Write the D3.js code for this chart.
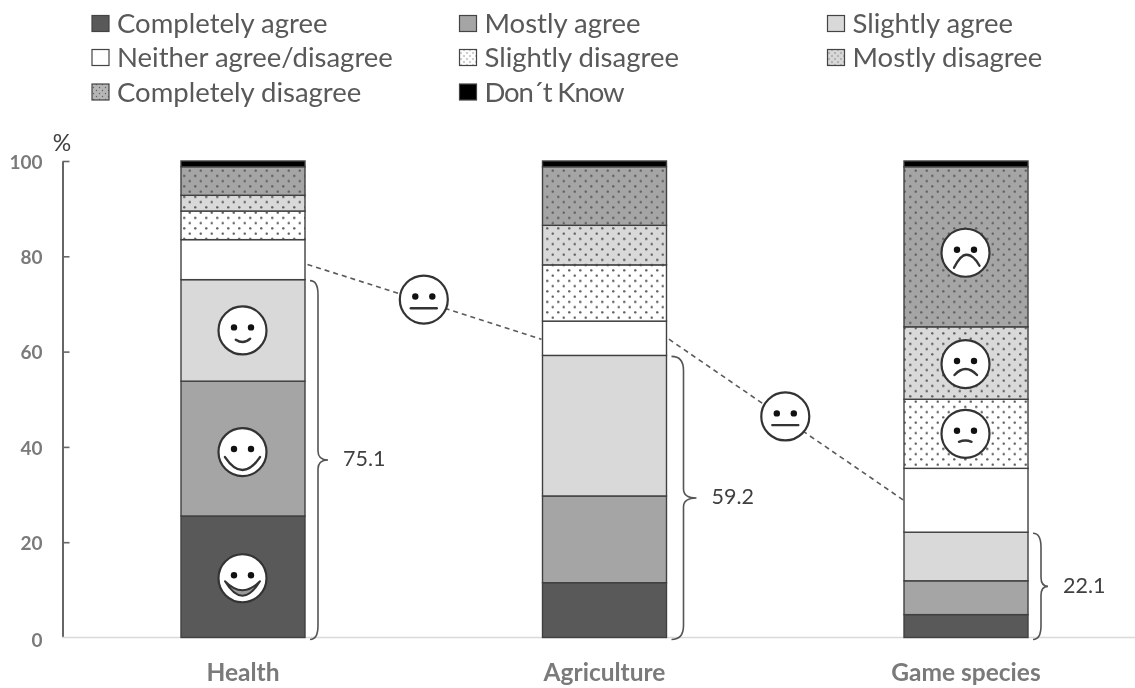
<!DOCTYPE html>
<html>
<head>
<meta charset="utf-8">
<script src="https://cdn.jsdelivr.net/npm/d3@7"></script>
<style>
html, body { margin: 0; padding: 0; background: #fff; overflow: hidden; }
svg { display: block; filter: blur(0.4px); }
text { font-family: Lato, "Open Sans", sans-serif; }
</style>
</head>
<body>
<svg id="chart" width="1135" height="688"></svg>
<script>
const categories = ["Health", "Agriculture", "Game species"];
const responses = ["Completely agree", "Mostly agree", "Slightly agree", "Neither agree/disagree",
	"Slightly disagree", "Mostly disagree", "Completely disagree", "Don´t Know"];
const completelyAgree = [25.5, 11.5, 4.8];
const mostlyAgree = [28.3, 18.2, 7.1];
const slightlyAgree = [21.3, 29.5, 10.2];
const neither = [8.4, 7.2, 13.4];
const slightlyDisagree = [6.0, 11.8, 14.5];
const mostlyDisagree = [3.3, 8.3, 15.2];
const completelyDisagree = [6.0, 12.3, 33.6];
const dontKnow = [1.2, 1.2, 1.2];
const agreeTotals = [75.1, 59.2, 22.1];
const connectorValues = [78.3, 62.6, 28.9];
const yTicks = [0, 20, 40, 60, 80, 100];

const seriesValues = [completelyAgree, mostlyAgree, slightlyAgree, neither,
	slightlyDisagree, mostlyDisagree, completelyDisagree, dontKnow];

// face on a segment: category, response index, mouth, nudge in px
const barFaces = [
	[0, 0, "bigsmile", 1.5], [0, 1, "smile", 3.5], [0, 2, "slightsmile", 0],
	[2, 4, "slightsad", 0], [2, 5, "sad", 1], [2, 6, "verysad", 6]
];

const fills = ["#595959", "#a5a5a5", "#d9d9d9", "#ffffff", "url(#pSlight)", "url(#pMostly)", "url(#pComplete)", "#000000"];
const legendFills = ["#595959", "#a5a5a5", "#d9d9d9", "#ffffff", "url(#lSlight)", "url(#lMostly)", "url(#lComplete)", "#000000"];

const svg = d3.select("#chart");
const defs = svg.append("defs");

function dotPattern(id, bg, w, h, r) {
	let p = defs.append("pattern").attr("id", id).attr("patternUnits", "userSpaceOnUse")
		.attr("width", w).attr("height", h);
	p.append("rect").attr("width", w).attr("height", h).attr("fill", bg);
	[[w / 4, h / 4], [w * 3 / 4, h * 3 / 4]].forEach(d => {
		p.append("circle").attr("cx", d[0]).attr("cy", d[1]).attr("r", r).attr("fill", "#606060");
	});
}
dotPattern("pSlight", "#ffffff", 11, 10.5, 1.25);
dotPattern("pMostly", "#d9d9d9", 11, 10.5, 1.25);
dotPattern("pComplete", "#a5a5a5", 11, 10.5, 1.25);
dotPattern("lSlight", "#ffffff", 6, 6, 0.7);
dotPattern("lMostly", "#d9d9d9", 6, 6, 0.7);
dotPattern("lComplete", "#b5b5b5", 6, 6, 0.7);

const x = d3.scaleBand().domain(categories).range([62.25, 1146.75]).paddingInner(0.657).paddingOuter(0.3285);
const y = d3.scaleLinear().domain([0, 100]).range([637.5, 161]);

// stack
const stacked = d3.stack().keys(d3.range(responses.length)).value((d, k) => seriesValues[k][d])(d3.range(categories.length));

// axes
const gy = svg.append("g").attr("transform", "translate(62.5,0)")
	.call(d3.axisRight(y).tickValues(yTicks).tickSize(7).tickSizeOuter(0).tickFormat(""));
gy.selectAll("line").attr("stroke", "#666").attr("stroke-width", 1.6);
gy.select(".domain").attr("stroke", "#666").attr("stroke-width", 2);
gy.selectAll(".tick").filter(d => d === 0).select("line").remove();

svg.selectAll(".ylab").data(yTicks).join("text").attr("class", "ylab")
	.attr("x", 42.5).attr("y", d => y(d) + (d === 0 ? 2.5 : 1)).attr("dy", "0.36em")
	.attr("text-anchor", "end").attr("font-size", 19).attr("font-weight", 700).attr("fill", "#7a7a7a")
	.text(d => d);

svg.append("line").attr("x1", 62).attr("x2", 1135).attr("y1", y(0)).attr("y2", y(0))
	.attr("stroke", "#d9d9d9").attr("stroke-width", 1.5);

svg.append("text").attr("x", 62).attr("y", 151).attr("text-anchor", "middle")
	.attr("font-size", 23).attr("fill", "#404040").text("%");

// bars
const layers = svg.selectAll(".layer").data(stacked).join("g").attr("class", "layer")
	.attr("fill", (d, i) => fills[i]);
layers.selectAll("rect").data(d => d).join("rect")
	.attr("x", (d, i) => x(categories[i]))
	.attr("width", x.bandwidth())
	.attr("y", d => y(d[1]))
	.attr("height", d => y(d[0]) - y(d[1]))
	.attr("stroke", "#404040").attr("stroke-width", 1.4);

svg.selectAll(".cat").data(categories).join("text").attr("class", "cat")
	.attr("x", d => x(d) + x.bandwidth() / 2).attr("y", 681)
	.attr("text-anchor", "middle").attr("font-size", 24.5).attr("font-weight", 700).attr("fill", "#7a7a7a")
	.text(d => d);

// dashed connectors between the "neither" segments, neutral face half way
d3.range(categories.length - 1).forEach(i => {
	let x0 = x(categories[i]) + x.bandwidth() + 2.5, x1 = x(categories[i + 1]) - 1;
	let y0 = y(connectorValues[i]), y1 = y(connectorValues[i + 1]);
	svg.append("line").attr("x1", x0).attr("y1", y0).attr("x2", x1).attr("y2", y1)
		.attr("stroke", "#5a5a5a").attr("stroke-width", 1.6).attr("stroke-dasharray", "5 4");
	drawFace(x0 + (x1 - x0) * 0.497, y0 + (y1 - y0) * 0.49 - 1.5, "neutral");
});

barFaces.forEach(f => {
	let d = stacked[f[1]][f[0]];
	drawFace(x(categories[f[0]]) + x.bandwidth() / 2 - 0.5, y((d[0] + d[1]) / 2) + f[3], f[2]);
});

function drawFace(cx, cy, mouth) {
	let g = svg.append("g").attr("transform", `translate(${cx},${cy})`);
	g.append("circle").attr("r", 24).attr("fill", "#fff").attr("stroke", "#333").attr("stroke-width", 2.2);
	[-8.5, 8.5].forEach(ex => {
		g.append("circle").attr("cx", ex).attr("cy", -3).attr("r", 3.2).attr("fill", "#111");
	});
	let m = g.append("path").attr("fill", "none").attr("stroke", "#333").attr("stroke-width", 2.4).attr("stroke-linecap", "round");
	if (mouth === "bigsmile") {
		m.attr("d", "M-17.5,3 Q0,32 17.5,3 Q0,21 -17.5,3 Z").attr("fill", "#999").attr("stroke-width", 2).attr("stroke-linejoin", "round");
	}
	if (mouth === "smile") m.attr("d", "M-17.5,5 Q0,31 17.5,5");
	if (mouth === "slightsmile") m.attr("d", "M-6.7,9.3 Q1,14.5 7.7,8.3");
	if (mouth === "neutral") m.attr("d", "M-13,8.7 L13,8.7");
	if (mouth === "slightsad") m.attr("d", "M-6.5,8 Q0,5.5 6,8");
	if (mouth === "sad") m.attr("d", "M-11,11 Q0,-1 11.5,11");
	if (mouth === "verysad") m.attr("d", "M-11.5,15 Q-5,2 1,2 Q8,2 14,13");
}

// curly braces beside the agree total
const braceReach = [13, 17, 13];
const braceTip = [10, 13, 7];
agreeTotals.forEach((t, i) => {
	let right = x(categories[i]) + x.bandwidth();
	let x0 = right + 5;
	let top = y(t) + 1, bot = y(0) + 2, mid = (top + bot) / 2;
	let rx = right + braceReach[i], tip = rx + braceTip[i];
	svg.append("path")
		.attr("d", `M${x0},${top} Q${rx},${top} ${rx},${top + 14} L${rx},${mid - 9} Q${rx},${mid} ${tip},${mid} Q${rx},${mid} ${rx},${mid + 9} L${rx},${bot - 14} Q${rx},${bot} ${x0},${bot}`)
		.attr("fill", "none").attr("stroke", "#555").attr("stroke-width", 1.6);
	svg.append("text").attr("x", tip + 15).attr("y", mid - 1.5).attr("dy", "0.36em")
		.attr("font-size", 21.5).attr("fill", "#404040").text(t);
});

// legend
const legendX = [92, 459.5, 827.5];
const legendY = [23.5, 57.5, 92];
const legend = svg.selectAll(".leg").data(responses).join("g").attr("class", "leg")
	.attr("transform", (d, i) => `translate(${legendX[i % 3]},${legendY[Math.floor(i / 3)]})`);
legend.append("rect").attr("x", 0).attr("y", -8).attr("width", 17).attr("height", 16)
	.attr("fill", (d, i) => legendFills[i]).attr("stroke", "#444").attr("stroke-width", 1.2);
legend.append("text").attr("x", 25).attr("dy", "0.35em").attr("font-size", 27.5).attr("fill", "#595959").text(d => d);
legend.filter((d, i) => i === 7).select("text").attr("textLength", 140);
</script>
</body>
</html>
